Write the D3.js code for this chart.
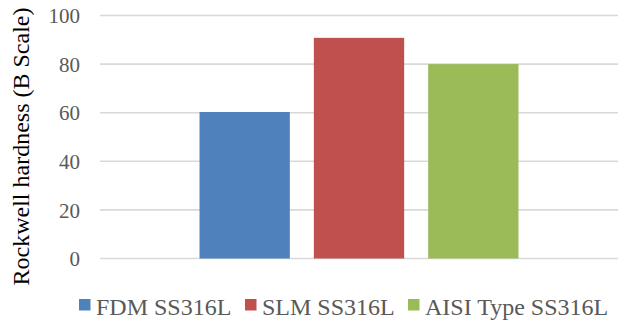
<!DOCTYPE html>
<html>
<head>
<meta charset="utf-8">
<script src="https://cdn.jsdelivr.net/npm/d3@7"></script>
<style>
  html, body { margin: 0; padding: 0; background: #fff; }
  svg { display: block; }
</style>
</head>
<body>
<svg id="chart" width="618" height="321"></svg>
<script>
// Rockwell hardness (B scale) of three SS316L materials
const categories = [""];
const seriesNames = ["FDM SS316L", "SLM SS316L", "AISI Type SS316L"];
const seriesValues = [60.3, 90.8, 80];
const seriesColors = ["#4f81bd", "#c0504d", "#9bbb59"];
const yTicks = [0, 20, 40, 60, 80, 100];

const svg = d3.select("#chart");
const serif = "'Liberation Serif', 'Times New Roman', serif";

const plot = { left: 100, right: 618, top: 15.5, bottom: 258.5 };

const y = d3.scaleLinear().domain([0, 100]).range([plot.bottom, plot.top]);

const x0 = d3.scaleBand()
  .domain(categories)
  .range([plot.left, plot.right])
  .padding(0.2378);

const x1 = d3.scaleBand()
  .domain(seriesNames)
  .range([0, x0.bandwidth()])
  .paddingInner(0.21)
  .paddingOuter(0);

// horizontal gridlines
svg.append("g")
  .selectAll("line")
  .data(yTicks)
  .join("line")
  .attr("x1", plot.left)
  .attr("x2", plot.right)
  .attr("y1", d => y(d))
  .attr("y2", d => y(d))
  .attr("stroke", "#d9d9d9")
  .attr("stroke-width", 1.6);

// y axis labels
const yAxis = d3.axisLeft(y).tickValues(yTicks).tickSize(0).tickPadding(0);
const gy = svg.append("g")
  .attr("transform", "translate(80,0)")
  .call(yAxis);
gy.select(".domain").remove();
gy.selectAll("text")
  .attr("font-family", serif)
  .attr("font-size", 21)
  .attr("fill", "#595959")
  .attr("dy", "0.34em");

// bars
const groups = svg.append("g")
  .selectAll("g")
  .data(categories)
  .join("g")
  .attr("transform", d => `translate(${x0(d)},0)`);

groups.selectAll("rect")
  .data(() => seriesNames.map((name, i) => ({ name, value: seriesValues[i], color: seriesColors[i] })))
  .join("rect")
  .attr("x", d => x1(d.name))
  .attr("width", x1.bandwidth())
  .attr("y", d => y(d.value))
  .attr("height", d => y(0) - y(d.value))
  .attr("fill", d => d.color);

// y axis title
svg.append("text")
  .attr("transform", "translate(29,146.5) rotate(-90)")
  .attr("text-anchor", "middle")
  .attr("font-family", serif)
  .attr("font-size", 24)
  .attr("fill", "#000")
  .text("Rockwell hardness (B Scale)");

// legend
const legendX = [79, 245, 408];
const legend = svg.append("g")
  .selectAll("g")
  .data(seriesNames)
  .join("g")
  .attr("transform", (d, i) => `translate(${legendX[i]},0)`);

legend.append("rect")
  .attr("x", 0)
  .attr("y", 299)
  .attr("width", 11.5)
  .attr("height", 11.5)
  .attr("fill", (d, i) => seriesColors[i]);

legend.append("text")
  .attr("x", 17)
  .attr("y", 315)
  .attr("font-family", serif)
  .attr("font-size", 24)
  .attr("fill", "#595959")
  .text(d => d);
</script>
</body>
</html>
